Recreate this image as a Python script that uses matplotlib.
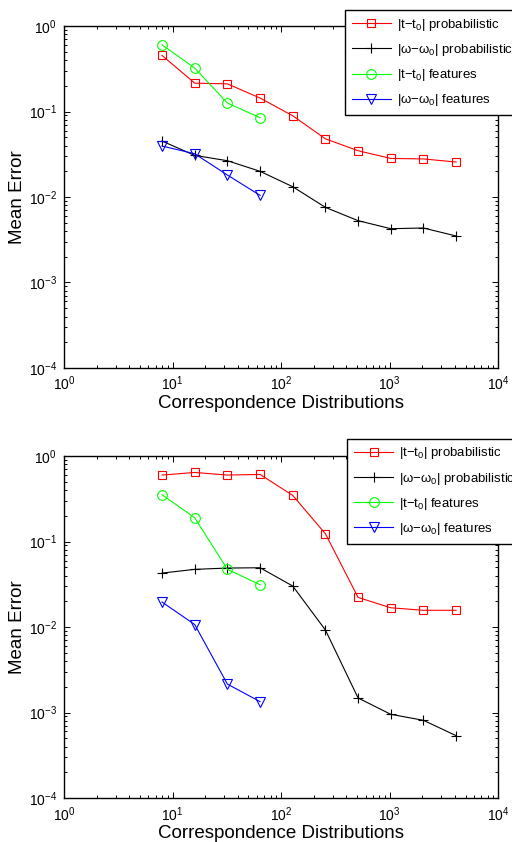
#!/usr/bin/env python3

import matplotlib
matplotlib.use("Agg")
import matplotlib.pyplot as plt


# Number of correspondence distributions used in each run
n_dists = [8, 16, 32, 64, 128, 256, 512, 1024, 2048, 4096]
n_dists_feat = [8, 16, 32, 64]

# Upper panel: mean errors
top_t_prob = [0.454, 0.215, 0.211, 0.144, 0.0893, 0.048, 0.0348, 0.0283, 0.0279, 0.0257]
top_w_prob = [0.0452, 0.0307, 0.0266, 0.0200, 0.0132, 0.00757, 0.00529, 0.00426, 0.00434, 0.00350]
top_t_feat = [0.605, 0.323, 0.126, 0.0847]
top_w_feat = [0.0395, 0.0321, 0.0181, 0.01046]

# Lower panel: mean errors
bot_t_prob = [0.600, 0.644, 0.600, 0.610, 0.347, 0.1235, 0.0222, 0.0168, 0.0157, 0.0157]
bot_w_prob = [0.0428, 0.0473, 0.0490, 0.0494, 0.0302, 0.00923, 0.00148, 0.000952, 0.000810, 0.000536]
bot_t_feat = [0.353, 0.190, 0.0473, 0.0313]
bot_w_feat = [0.0196, 0.0107, 0.00215, 0.00134]

series_labels = [
    "|t\u2212t$_0$| probabilistic",
    "|\u03c9\u2212\u03c9$_0$| probabilistic",
    "|t\u2212t$_0$| features",
    "|\u03c9\u2212\u03c9$_0$| features",
]

plt.rcParams["font.family"] = ["Liberation Sans", "DejaVu Sans"]
plt.rcParams["mathtext.fontset"] = "custom"
plt.rcParams["mathtext.rm"] = "Liberation Sans"
plt.rcParams["mathtext.it"] = "Liberation Sans"
plt.rcParams["mathtext.default"] = "regular"


def draw_panel(fig, ax, t_prob, w_prob, t_feat, w_feat, legend_anchor):
    lw = 0.8
    ax.plot(n_dists, t_prob, color="red", marker="s", ms=6, mfc="none",
            mew=lw, lw=lw, label=series_labels[0])
    ax.plot(n_dists, w_prob, color="black", marker="+", ms=6.5,
            mew=lw, lw=lw, label=series_labels[1])
    ax.plot(n_dists_feat, t_feat, color="#00ff00", marker="o", ms=7, mfc="none",
            mew=lw, lw=lw, label=series_labels[2])
    ax.plot(n_dists_feat, w_feat, color="blue", marker="v", ms=7, mfc="none",
            mew=lw, lw=lw, label=series_labels[3])

    ax.set_xscale("log")
    ax.set_yscale("log")
    ax.set_xlim(1, 1e4)
    ax.set_ylim(1e-4, 1)
    ax.set_xlabel("Correspondence Distributions", fontsize=13.5, labelpad=1)
    ax.set_ylabel("Mean Error", fontsize=13.5, labelpad=2)

    ax.tick_params(which="both", direction="in", top=True, right=True,
                   labelsize=10, width=0.7)
    ax.tick_params(which="major", length=4, pad=5)
    ax.tick_params(which="minor", length=2)
    for spine in ax.spines.values():
        spine.set_linewidth(1.0)

    # the legend box runs past the right edge of the figure
    leg = ax.legend(loc="upper left", bbox_to_anchor=legend_anchor,
                    bbox_transform=fig.transFigure, fontsize=9.5,
                    numpoints=1, handlelength=3.0, handletextpad=0.4,
                    labelspacing=0.7, borderpad=0.5, borderaxespad=0,
                    fancybox=False, framealpha=1, edgecolor="black")
    leg.get_frame().set_linewidth(1.0)


def main():
    fig = plt.figure(figsize=(5.12, 8.42), dpi=100)
    ax_top = fig.add_axes([0.125, 0.563, 0.848, 0.406])
    ax_bot = fig.add_axes([0.125, 0.0523, 0.848, 0.406])

    draw_panel(fig, ax_top, top_t_prob, top_w_prob, top_t_feat, top_w_feat,
               (0.674, 0.988))
    draw_panel(fig, ax_bot, bot_t_prob, bot_w_prob, bot_t_feat, bot_w_feat,
               (0.678, 0.479))

    fig.savefig("out.png", dpi=100)
    plt.close(fig)


if __name__ == "__main__":
    main()
